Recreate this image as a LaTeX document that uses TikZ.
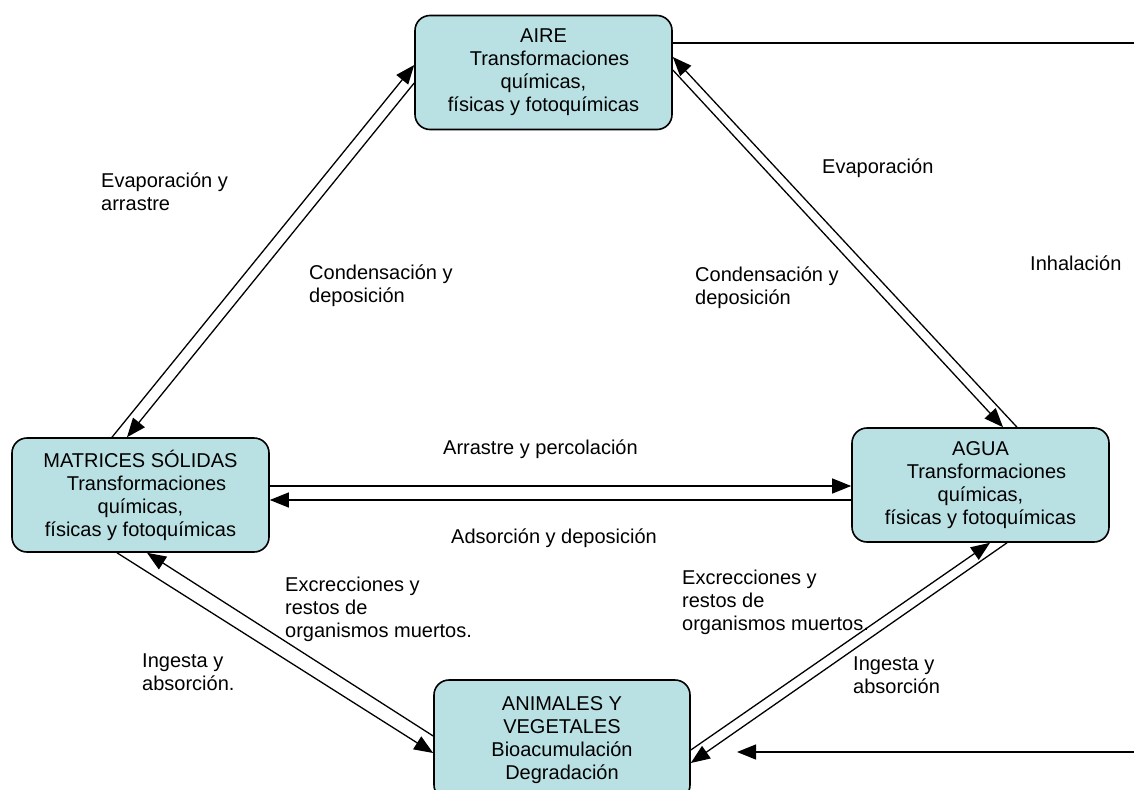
\documentclass[tikz,border=0pt]{standalone}
\usepackage{fontspec}
\setmainfont{Liberation Sans}
\usetikzlibrary{arrows.meta}
\definecolor{boxfill}{RGB}{185,224,227}
\begin{document}
\begin{tikzpicture}[x=1pt,y=-1pt,
  box/.style={draw=black, line width=1.6pt, fill=boxfill, rounded corners=15pt,
    minimum width=257pt, minimum height=114pt, align=center, inner sep=0pt,
    font=\fontsize{20}{23}\selectfont},
  lbl/.style={anchor=north west, inner sep=0pt, align=left,
    font=\fontsize{20}{23}\selectfont},
  flow/.style={line width=1.3pt, -{Triangle[length=19pt,width=15pt]}},
  plain/.style={line width=1.3pt}]
\clip (0,0) rectangle (1134,789);
\useasboundingbox (0,0) rectangle (1134,789);

% compartments
\node[box] (aire) at (543.5,72.5)
  {AIRE\\\hspace*{12pt}Transformaciones\\químicas,\\físicas y fotoquímicas};
\node[box] (mat) at (140.5,495)
  {MATRICES SÓLIDAS\\\hspace*{12pt}Transformaciones\\químicas,\\físicas y fotoquímicas};
\node[box] (agua) at (980.5,485)
  {AGUA\\\hspace*{12pt}Transformaciones\\químicas,\\físicas y fotoquímicas};
\node[box, minimum width=256pt, minimum height=120pt] (anim) at (562,740)
  {ANIMALES Y\\VEGETALES\\Bioacumulación\\Degradación};

% soil <-> air
\draw[flow] (mat.north -| 112,0) -- (aire.west |- 0,65);
\draw[flow] (aire.west |- 0,83) -- (mat.north -| 127,0);

% water <-> air
\draw[flow] (agua.north -| 1017,0) -- (aire.east |- 0,57);
\draw[flow] (aire.east |- 0,70) -- (agua.north -| 1003,0);

% inhalation loop
\coordinate (inhR) at (1134,43);
\draw[plain] (aire.east |- 0,43) -- (inhR);
\coordinate (feedR) at (1134,752);
\coordinate (feedL) at (737,752);
\draw[flow] (feedR) -- (feedL);

% soil <-> water
\draw[flow] (mat.east |- 0,486) -- (agua.west |- 0,486);
\draw[flow] (agua.west |- 0,500) -- (mat.east |- 0,500);

% soil <-> organisms
\draw[flow] (mat.south -| 117,0) -- (anim.west |- 0,753);
\draw[flow] (anim.west |- 0,736) -- (mat.south -| 147,0);

% organisms <-> water
\draw[flow] (anim.east |- 0,750) -- (agua.south -| 990,0);
\draw[flow] (agua.south -| 1007,0) -- (anim.east |- 0,763);

% process labels
\node[lbl] (l1) at (101,173) {Evaporación y\\arrastre};
\node[lbl] (l2) at (309,265) {Condensación y\\deposición};
\node[lbl] (l3) at (822,159) {Evaporación};
\node[lbl] (l4) at (695,267) {Condensación y\\deposición};
\node[lbl] (l5) at (1030,256) {Inhalación};
\node[lbl] (l6) at (443,440) {Arrastre y percolación};
\node[lbl] (l7) at (451,529) {Adsorción y deposición};
\node[lbl] (l8) at (285,577) {Excrecciones y\\restos de\\organismos muertos.};
\node[lbl] (l9) at (682,570) {Excrecciones y\\restos de\\organismos muertos.};
\node[lbl] (l10) at (142,654) {Ingesta y\\absorción.};
\node[lbl] (l11) at (853,657) {Ingesta y\\absorción};
\end{tikzpicture}
\end{document}
